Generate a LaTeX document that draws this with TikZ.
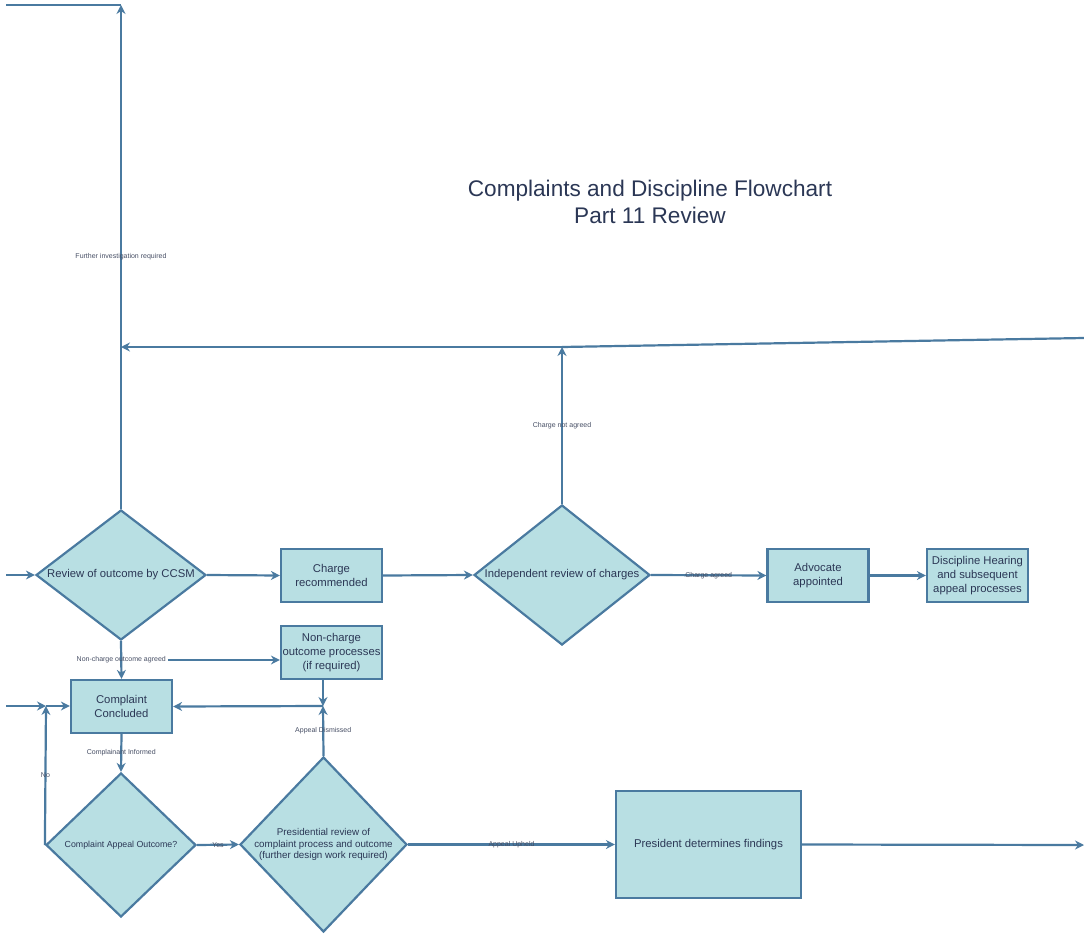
\documentclass[tikz,border=0pt]{standalone}
\usepackage{fontspec}
\setmainfont{Liberation Sans}
\usetikzlibrary{shapes.geometric}
\usetikzlibrary{arrows.meta}
\definecolor{lineblue}{RGB}{74,122,160}
\definecolor{fillblue}{RGB}{184,223,227}
\definecolor{inkblue}{RGB}{43,55,85}
\definecolor{labgrey}{RGB}{70,78,100}

\begin{document}
\begin{tikzpicture}[x=1pt, y=-1pt,
      -{Stealth[length=9pt,width=9pt]},
      color=lineblue,
      line width=2.2pt,
      font=\fontsize{11.3}{14}\selectfont,
      box/.style={rectangle, draw=lineblue, fill=fillblue, text=inkblue,
        align=center, minimum width=101pt, minimum height=53pt, inner sep=0.5pt},
      dia/.style={diamond, draw=lineblue, fill=fillblue, inner sep=0pt},
      lab/.style={font=\fontsize{7}{8}\selectfont, text=labgrey, inner sep=1pt},
      every label/.style={text=inkblue, align=center},
      smalldia/.style={font=\fontsize{9.8}{11.2}\selectfont}
      ]
    \useasboundingbox (0,0) rectangle (1084,934);

    \node (title) at (650,202) [align=center, text=inkblue,
      font=\fontsize{22.6}{27}\selectfont]
      {Complaints and Discipline Flowchart\\Part 11 Review};

    % charge row
    \node (rev) at (121,575) [dia, minimum width=170pt, minimum height=130pt,
      label=center:Review of outcome by CCSM] {};
    \node (chg) at (331.5,575.5) [box] {Charge\\recommended};
    \node (ind) at (562,575) [dia, minimum width=176pt, minimum height=140pt,
      label=center:Independent review of charges] {};
    \node (adv) at (818,575.5) [box] {Advocate\\appointed};
    \node (dis) at (977.5,575.5) [box] {Discipline Hearing\\and subsequent\\appeal processes};

    % non-charge and appeal
    \node (nco) at (331.5,652.5) [box] {Non-charge\\outcome processes\\(if required)};
    \node (cc) at (121.5,706.5) [box] {Complaint\\Concluded};
    \node (cao) at (121,845) [dia, minimum width=150pt, minimum height=144pt,
      label={[font=\fontsize{8.8}{10}\selectfont]center:Complaint Appeal Outcome?}] {};
    \node (pres) at (323.5,844.5) [dia, minimum width=167pt, minimum height=175pt,
      label={[smalldia]center:{Presidential review of\\complaint process and outcome\\(further design work required)}}] {};
    \node (pdf) at (708.5,844.5) [box, minimum width=185pt, minimum height=107pt]
      {President determines findings};

    \coordinate (topin) at (6,5);
    \coordinate (topend) at (121,5);
    \coordinate (revin) at (6,575);
    \coordinate (ccin) at (6,706);
    \coordinate (nofoot) at (46,706);
    \coordinate (farright) at (1084,338);
    \coordinate (cnajoin) at (562,347);
    \coordinate (dismjoin) at (323,706);
    \coordinate (pdfout) at (1084,845);

    \draw (rev.north) -- node [lab] {Further investigation required} (topend);
    \draw [-] (topin) -- (topend);
    \draw [-] (farright) -- (cnajoin);
    \draw (cnajoin) -- (rev.north |- cnajoin);
    \draw (ind.north) -- node [lab] {Charge not agreed} (cnajoin);

    \draw (revin) -- (rev.west);
    \draw (rev.east) -- (chg.west);
    \draw (chg.east) -- (ind.west);
    \draw (ind.east) -- node [lab] {Charge agreed} (adv.west);
    \draw (adv.east) -- (dis.west);

    \draw (rev.south) -- node [lab] (ncolab) {Non-charge outcome agreed} (cc.north);
    \draw (ncolab.east) -- (nco.west |- ncolab.east);
    \draw (nco.south -| dismjoin) -- (dismjoin);
    \draw (pres.north) -- node [lab] {Appeal Dismissed} (dismjoin);
    \draw (dismjoin) -- (cc.east);

    \draw (ccin) -- (nofoot);
    \draw (nofoot) -- (cc.west |- nofoot);
    \draw (cao.west) -- node [lab] {No} (nofoot);
    \draw (cc.south) -- node [lab] {Complainant Informed} (cao.north);
    \draw (cao.east) -- node [lab] {Yes} (pres.west);
    \draw (pres.east) -- node [lab] {Appeal Upheld} (pdf.west);
    \draw (pdf.east) -- (pdfout);
  \end{tikzpicture}
\end{document}
